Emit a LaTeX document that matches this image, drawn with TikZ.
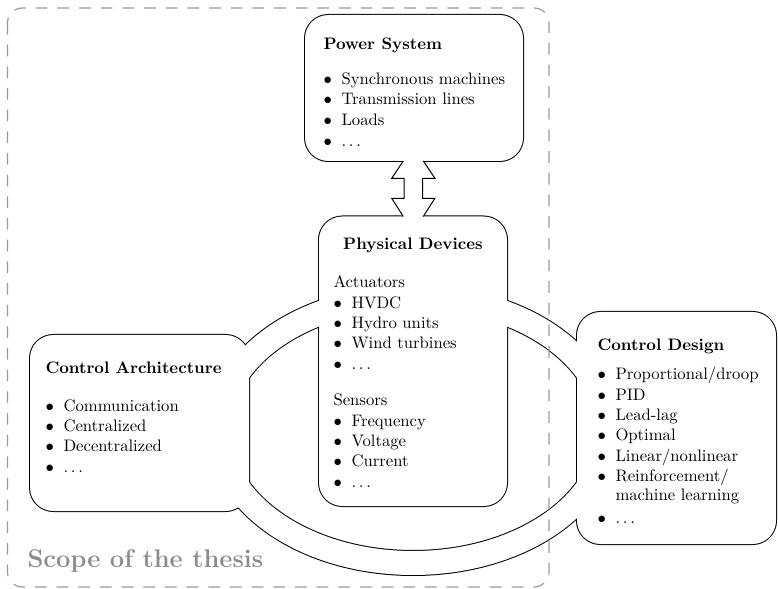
\documentclass[tikz,border=0pt]{standalone}
\usetikzlibrary{calc}
\newcommand{\bul}{\makebox[10.8pt][l]{$\bullet$}}
\tikzset{
  item/.style={anchor=west, inner sep=0pt, text height=7pt, text depth=2pt, yshift=-1.2pt},
  title/.style={item, font=\bfseries},
  boxline/.style={line width=1.2pt, rounded corners=14pt},
  boxfill/.style={fill=white, rounded corners=14pt},
  scopeline/.style={draw=black!40, line width=0.7pt, dash pattern=on 7pt off 6pt, rounded corners=9pt}
}
\begin{document}
\begin{tikzpicture}[x=0.6pt,y=-0.6pt,line width=0.6pt]
\useasboundingbox (0,0) rectangle (778,589);
% corners of the four boxes
\coordinate (power-nw) at (305,15);    \coordinate (power-se) at (523,161);
\coordinate (dev-nw) at (319,216.5);   \coordinate (dev-se) at (507,506);
\coordinate (arch-nw) at (30,335);     \coordinate (arch-se) at (249,511);
\coordinate (design-nw) at (577,312);  \coordinate (design-se) at (776,544);
\coordinate (ring) at (413,430);
% black outlines first, white on top: boxes and ring merge
\foreach \n in {power,dev,arch,design}
  \draw[boxline] (\n-nw) rectangle (\n-se);
\draw[line width=15.6pt] (ring) ellipse [x radius=194, y radius=133];
\foreach \n in {power,dev,arch,design}
  \fill[boxfill] (\n-nw) rectangle (\n-se);
\draw[white, line width=14.4pt] (ring) ellipse [x radius=194, y radius=133];
% link power system -- devices
\coordinate (link-top) at (413.3,161);
\coordinate (link-bot) at (413.3,216.5);
\path[fill=white] (link-top) ++(-10,-2) rectangle ($(link-bot)+(10,2)$);
\path[fill=white] (link-top) ++(-10,0) -- ++(-11.6,17.3) -- ++(12.3,0) -- ++(0,20) -- ++(-12.3,0) -- ++(11.6,18.2)
  -- ++(20,0) -- ++(11.6,-18.2) -- ++(-12.3,0) -- ++(0,-20) -- ++(12.3,0) -- ++(-11.6,-17.3) -- cycle;
\draw (link-top) ++(-10,0) -- ++(-11.6,17.3) -- ++(12.3,0) -- ++(0,20) -- ++(-12.3,0) -- ++(11.6,18.2);
\draw (link-top) ++(10,0) -- ++(11.6,17.3) -- ++(-12.3,0) -- ++(0,20) -- ++(12.3,0) -- ++(-11.6,18.2);

% Power System
\node[title] (power-title) at (323,43) {Power System};
\foreach \t [count=\i from 0] in {Synchronous machines, Transmission lines, Loads, $\ldots$}
  \node[item] (power-\i) at (323,78+20.8*\i) {\bul\t};

% Physical Devices
\node[title, anchor=center] (dev-title) at (413,243) {Physical Devices};
\node[item] (act) at (333,281) {Actuators};
\foreach \t [count=\i from 0] in {HVDC, Hydro units, Wind turbines, $\ldots$}
  \node[item] (act-\i) at (333,302+20.4*\i) {\bul\t};
\node[item] (sens) at (333,399) {Sensors};
\foreach \t [count=\i from 0] in {Frequency, Voltage, Current, $\ldots$}
  \node[item] (sens-\i) at (333,420+20.4*\i) {\bul\t};

% Control Architecture
\node[title] (arch-title) at (45,367) {Control Architecture};
\foreach \t [count=\i from 0] in {Communication, Centralized, Decentralized, $\ldots$}
  \node[item] (arch-\i) at (45,405+20.4*\i) {\bul\t};

% Control Design
\node[title] (design-title) at (597,344) {Control Design};
\foreach \t/\y [count=\i] in {{Proportional/droop}/373, PID/394, Lead-lag/414, Optimal/434,
    {Linear/nonlinear}/455, {Reinforcement/}/475, $\ldots$/517}
  \node[item] (design-\i) at (597,\y) {\bul\t};
\node[item] (design-ml) at (615,494) {machine learning};

% scope of the thesis
\draw[scopeline] (7.5,8) rectangle (549,587);
\node[anchor=base west, inner sep=0pt, font=\fontsize{15.3}{18}\selectfont\bfseries, text=black!45] (scope) at (27,567) {Scope of the thesis};
\end{tikzpicture}
\end{document}
